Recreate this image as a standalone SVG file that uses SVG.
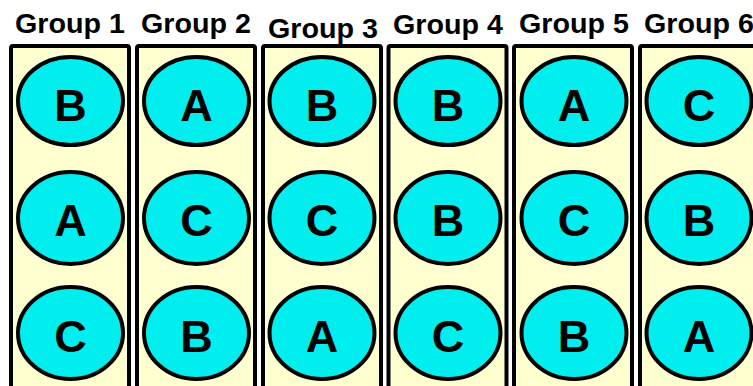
<svg xmlns="http://www.w3.org/2000/svg" width="753" height="386" viewBox="0 0 753 386">
<style>
.hdr{font-family:"Liberation Sans",Arial,sans-serif;font-weight:bold;font-size:27px;fill:#000;text-anchor:middle}
.box{fill:#FFFFD0;stroke:#000;stroke-width:4}
.node{fill:#00EEEE;stroke:#000;stroke-width:4}
.lbl{font-family:"Liberation Sans",Arial,sans-serif;font-weight:bold;font-size:45px;fill:#000;text-anchor:middle}
</style>
<rect width="753" height="386" fill="#fff"/>
<g id="headers">
<text class="hdr" x="70" y="33" textLength="110" lengthAdjust="spacingAndGlyphs">Group 1</text>
<text class="hdr" x="196" y="33" textLength="110" lengthAdjust="spacingAndGlyphs">Group 2</text>
<text class="hdr" x="323" y="37.5" textLength="110" lengthAdjust="spacingAndGlyphs">Group 3</text>
<text class="hdr" x="448" y="34" textLength="110" lengthAdjust="spacingAndGlyphs">Group 4</text>
<text class="hdr" x="574" y="33" textLength="110" lengthAdjust="spacingAndGlyphs">Group 5</text>
<text class="hdr" x="699" y="33" textLength="110" lengthAdjust="spacingAndGlyphs">Group 6</text>
</g>
<g id="group1">
<rect class="box" x="11" y="46" width="118" height="350" rx="2"/>
<g id="g1n1"><ellipse class="node" cx="70.5" cy="101" rx="52.5" ry="44"/><text class="lbl" x="70.5" y="121">B</text></g>
<g id="g1n2"><ellipse class="node" cx="70.5" cy="218" rx="52.5" ry="46"/><text class="lbl" x="70.5" y="236">A</text></g>
<g id="g1n3"><ellipse class="node" cx="70.5" cy="333" rx="52.5" ry="46"/><text class="lbl" x="70.5" y="352">C</text></g>
</g>
<g id="group2">
<rect class="box" x="137" y="46" width="118" height="350" rx="2"/>
<g id="g2n1"><ellipse class="node" cx="196.5" cy="101" rx="52.5" ry="44"/><text class="lbl" x="196.5" y="121">A</text></g>
<g id="g2n2"><ellipse class="node" cx="196.5" cy="218" rx="52.5" ry="46"/><text class="lbl" x="196.5" y="236">C</text></g>
<g id="g2n3"><ellipse class="node" cx="196.5" cy="333" rx="52.5" ry="46"/><text class="lbl" x="196.5" y="352">B</text></g>
</g>
<g id="group3">
<rect class="box" x="263" y="46" width="118" height="350" rx="2"/>
<g id="g3n1"><ellipse class="node" cx="322" cy="101" rx="52.5" ry="44"/><text class="lbl" x="322" y="121">B</text></g>
<g id="g3n2"><ellipse class="node" cx="322" cy="218" rx="52.5" ry="46"/><text class="lbl" x="322" y="236">C</text></g>
<g id="g3n3"><ellipse class="node" cx="322" cy="333" rx="52.5" ry="46"/><text class="lbl" x="322" y="352">A</text></g>
</g>
<g id="group4">
<rect class="box" x="388.5" y="46" width="118" height="350" rx="2"/>
<g id="g4n1"><ellipse class="node" cx="448" cy="101" rx="52.5" ry="44"/><text class="lbl" x="448" y="121">B</text></g>
<g id="g4n2"><ellipse class="node" cx="448" cy="218" rx="52.5" ry="46"/><text class="lbl" x="448" y="236">B</text></g>
<g id="g4n3"><ellipse class="node" cx="448" cy="333" rx="52.5" ry="46"/><text class="lbl" x="448" y="352">C</text></g>
</g>
<g id="group5">
<rect class="box" x="514" y="46" width="118" height="350" rx="2"/>
<g id="g5n1"><ellipse class="node" cx="574" cy="101" rx="52.5" ry="44"/><text class="lbl" x="574" y="121">A</text></g>
<g id="g5n2"><ellipse class="node" cx="574" cy="218" rx="52.5" ry="46"/><text class="lbl" x="574" y="236">C</text></g>
<g id="g5n3"><ellipse class="node" cx="574" cy="333" rx="52.5" ry="46"/><text class="lbl" x="574" y="352">B</text></g>
</g>
<g id="group6">
<rect class="box" x="640" y="46" width="118" height="350" rx="2"/>
<g id="g6n1"><ellipse class="node" cx="699" cy="101" rx="52.5" ry="44"/><text class="lbl" x="699" y="121">C</text></g>
<g id="g6n2"><ellipse class="node" cx="699" cy="218" rx="52.5" ry="46"/><text class="lbl" x="699" y="236">B</text></g>
<g id="g6n3"><ellipse class="node" cx="699" cy="333" rx="52.5" ry="46"/><text class="lbl" x="699" y="352">A</text></g>
</g>
<g id="connectors"/>
</svg>
